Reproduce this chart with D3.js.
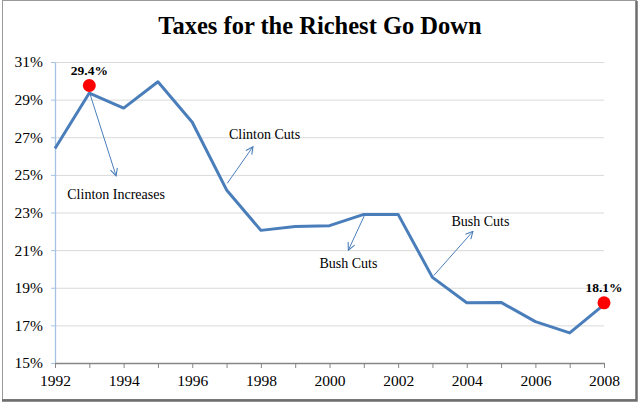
<!DOCTYPE html>
<html>
<head>
<meta charset="utf-8">
<script src="https://cdn.jsdelivr.net/npm/d3@7"></script>
<style>
  body { margin: 0; background: #fff; }
  .grid line { stroke: #d9d9d9; stroke-width: 1; }
  .grid path { display: none; }
  .x.axis path, .x.axis line { stroke: #868686; }
  .y.axis path, .y.axis line { stroke: #a6c2e2; }
</style>
</head>
<body>
<div id="chart"></div>
<script>
// values
const years = [1992, 1993, 1994, 1995, 1996, 1997, 1998, 1999, 2000, 2001, 2002, 2003, 2004, 2005, 2006, 2007, 2008]
const rates = [26.4, 29.35, 28.55, 29.95, 27.8, 24.2, 22.05, 22.25, 22.3, 22.9, 22.9, 19.55, 18.2, 18.22, 17.2, 16.6, 18.1]
const yTicks = [15, 17, 19, 21, 23, 25, 27, 29, 31]
const xTicks = [1992, 1994, 1996, 1998, 2000, 2002, 2004, 2006, 2008]
const highlights = [{year: 1993, value: 29.75, label: '29.4%'}, {year: 2008, value: 18.2, label: '18.1%'}]
// annotation arrows, in data units (year, rate)
const notes = [
  {text: 'Clinton Increases', from: [1993.02, 29.3], to: [1993.78, 24.95], at: [1993.78, 24.0], anchor: 'middle'},
  {text: 'Clinton Cuts', from: [1997.02, 24.55], to: [1997.77, 26.5], at: [1997.07, 27.15], anchor: 'start'},
  {text: 'Bush Cuts', from: [2001.02, 22.85], to: [2000.55, 21.0], at: [2000.55, 20.3], anchor: 'middle'},
  {text: 'Bush Cuts', from: [2003.04, 19.65], to: [2004.18, 22.0], at: [2004.4, 22.55], anchor: 'middle'}
]

const SERIF = '"Liberation Serif", "Times New Roman", serif'
const data = years.map((y, i) => ({year: y, value: rates[i]}))

var W = 640, H = 403
var margin = {top: 62, right: 36, bottom: 40, left: 55},
  width = W - margin.left - margin.right,
  height = H - margin.top - margin.bottom

var root = d3.select('#chart').append('svg')
  .attr('width', W)
  .attr('height', H)

// frame with a soft shadow on the right and bottom
root.append('rect')
  .attr('x', 2.5).attr('y', 0.5)
  .attr('width', W - 6).attr('height', H - 4)
  .attr('fill', '#fff')
  .attr('stroke', '#9a9a9a')
root.append('path')
  .attr('d', `M${W - 3.5},1 V${H - 2.5} H2`)
  .attr('fill', 'none')
  .attr('stroke', '#6e6e6e')
  .attr('stroke-width', 2.5)

root.append('text')
  .attr('x', 320)
  .attr('y', 34)
  .attr('text-anchor', 'middle')
  .style('font-family', SERIF)
  .style('font-size', '24.5px')
  .style('font-weight', 'bold')
  .text('Taxes for the Richest Go Down')

var defs = root.append('defs')
defs.append('marker')
  .attr('id', 'head')
  .attr('viewBox', '0 0 10 10')
  .attr('refX', 9).attr('refY', 5)
  .attr('markerWidth', 9).attr('markerHeight', 9)
  .attr('markerUnits', 'userSpaceOnUse')
  .attr('orient', 'auto')
  .append('path')
  .attr('d', 'M1,1 L9,5 L1,9')
  .attr('fill', 'none')
  .attr('stroke', '#4a7ebb')
  .attr('stroke-width', 1.2)

var svg = root.append('g')
  .attr('transform', 'translate(' + margin.left + ',' + margin.top + ')')

var x = d3.scaleLinear()
  .domain([1992, 2008])
  .range([0, width])

var y = d3.scaleLinear()
  .domain([15, 31])
  .range([height, 0])

svg.append('g')
  .attr('class', 'grid')
  .call(d3.axisLeft(y).tickValues(yTicks.slice(1)).tickSize(-width).tickFormat(''))

var xAxis = svg.append('g')
  .attr('class', 'x axis')
  .attr('transform', 'translate(0,' + height + ')')
  .call(d3.axisBottom(x).tickValues(d3.range(1992, 2009)).tickSizeInner(5).tickSizeOuter(0).tickPadding(7)
    .tickFormat(d => xTicks.includes(d) ? d : ''))

var yAxis = svg.append('g')
  .attr('class', 'y axis')
  .call(d3.axisLeft(y).tickValues(yTicks).tickSizeInner(4).tickSizeOuter(0).tickPadding(8)
    .tickFormat(d => d + '%'))

svg.selectAll('.axis')
  .attr('font-family', SERIF)
  .attr('font-size', 15.5)
svg.selectAll('.axis text')
  .style('font-family', SERIF)
  .style('font-size', '15.5px')
  .attr('fill', '#000')
svg.selectAll('.axis .domain').attr('stroke-width', 1.3)
xAxis.raise()

var line = d3.line()
  .x(d => x(d.year))
  .y(d => y(d.value))

svg.append('path')
  .datum(data)
  .attr('fill', 'none')
  .attr('stroke', '#4a7ebb')
  .attr('stroke-width', 3)
  .attr('stroke-linejoin', 'round')
  .attr('d', line)

svg.selectAll('.arrow')
  .data(notes)
  .enter().append('line')
  .attr('class', 'arrow')
  .attr('x1', d => x(d.from[0])).attr('y1', d => y(d.from[1]))
  .attr('x2', d => x(d.to[0])).attr('y2', d => y(d.to[1]))
  .attr('stroke', '#4a7ebb')
  .attr('stroke-width', 1)
  .attr('marker-end', 'url(#head)')

svg.selectAll('.note')
  .data(notes)
  .enter().append('text')
  .attr('class', 'note')
  .attr('x', d => x(d.at[0]))
  .attr('y', d => y(d.at[1]))
  .attr('dy', '0.35em')
  .attr('text-anchor', d => d.anchor)
  .style('font-family', SERIF)
  .style('font-size', '14px')
  .text(d => d.text)

svg.selectAll('.dot')
  .data(highlights)
  .enter().append('circle')
  .attr('class', 'dot')
  .attr('cx', d => x(d.year))
  .attr('cy', d => y(d.value))
  .attr('r', 6.5)
  .attr('fill', '#ff0000')

svg.selectAll('.callout')
  .data(highlights)
  .enter().append('text')
  .attr('class', 'callout')
  .attr('x', d => x(d.year))
  .attr('y', d => y(d.value) - 11)
  .attr('text-anchor', 'middle')
  .style('font-family', SERIF)
  .style('font-size', '13.5px')
  .style('font-weight', 'bold')
  .text(d => d.label)
</script>
</body>
</html>
